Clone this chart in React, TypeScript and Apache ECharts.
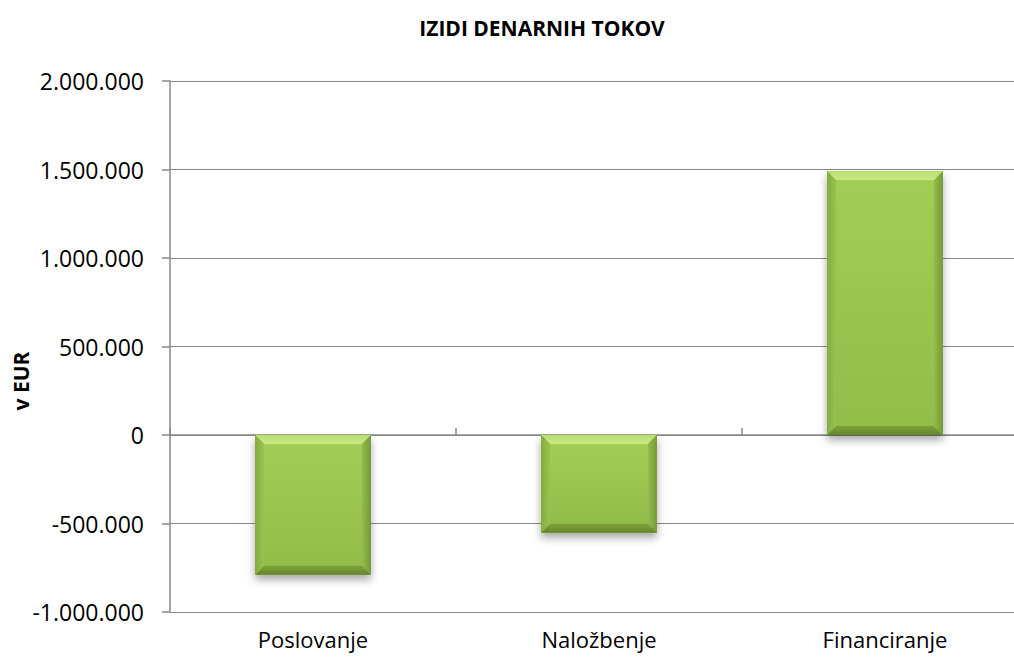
import React, { useEffect, useRef } from "react";
import * as echarts from "echarts";

const categories = ["Poslovanje", "Naložbenje", "Financiranje"];
const values = [-790000, -552000, 1490000];
const yMin = -1000000;
const yMax = 2000000;
const yInterval = 500000;

function fmt(v: number): string {
  const s = Math.abs(v).toString().replace(/\B(?=(\d{3})+(?!\d))/g, ".");
  return (v < 0 ? "-" : "") + s;
}

export default function App() {
  const ref = useRef<HTMLDivElement>(null);
  useEffect(() => {
    if (!ref.current) return;
    const chart = echarts.init(ref.current, undefined, { renderer: "svg" });
    const font = "'Open Sans', 'Noto Sans', sans-serif";
    chart.setOption({
      animation: false,
      backgroundColor: "#ffffff",
      title: {
        text: "IZIDI DENARNIH TOKOV",
        left: 537,
        top: 12,
        textAlign: "center",
        textStyle: { fontFamily: font, fontSize: 21, fontWeight: "bold", color: "#000" },
      },
      graphic: [
        {
          type: "text",
          x: 21,
          y: 381,
          rotation: Math.PI / 2,
          style: {
            text: "v EUR",
            fontFamily: font,
            fontSize: 21,
            fontWeight: "bold",
            fill: "#000",
            align: "center",
            verticalAlign: "middle",
          },
        },
      ],
      grid: { left: 170, top: 81, right: 12, bottom: 46 },
      xAxis: [
        {
          type: "category",
          data: categories,
          position: "bottom",
          axisLine: { show: false, onZero: false },
          axisTick: { show: false },
          axisLabel: { fontFamily: font, fontSize: 22, color: "#000", margin: 16 },
        },
        {
          type: "category",
          data: categories,
          position: "bottom",
          axisLine: { show: true, onZero: true, lineStyle: { color: "#888", width: 1.5 } },
          axisTick: { show: true, inside: true, length: 7, lineStyle: { color: "#888", width: 1.5 } },
          axisLabel: { show: false },
        },
      ],
      yAxis: {
        type: "value",
        min: yMin,
        max: yMax,
        interval: yInterval,
        axisLine: { show: true, lineStyle: { color: "#888", width: 1.5 } },
        axisTick: { show: true, length: 8, lineStyle: { color: "#888", width: 1.5 } },
        splitLine: { show: true, lineStyle: { color: "#888", width: 1.2 } },
        axisLabel: {
          fontFamily: font,
          fontSize: 23,
          color: "#000",
          margin: 26,
          formatter: (v: number) => fmt(v),
        },
      },
      series: [
        {
          type: "custom",
          xAxisIndex: 0,
          encode: { x: 0, y: 1 },
          data: values.map((v, i) => [i, v]),
          renderItem: (params: any, api: any) => {
            const i = api.value(0);
            const v = api.value(1);
            const p0 = api.coord([i, 0]);
            const p1 = api.coord([i, v]);
            const w = api.size([1, 0])[0] * 0.405;
            const x0 = p0[0] - w / 2;
            const x1 = p0[0] + w / 2;
            const top = Math.min(p0[1], p1[1]);
            const bot = Math.max(p0[1], p1[1]);
            const b = 9;
            return {
              type: "group",
              children: [
                {
                  type: "rect",
                  shape: { x: x0, y: top, width: w, height: bot - top },
                  style: {
                    fill: "#8fb847",
                    shadowBlur: 8,
                    shadowOffsetY: 5,
                    shadowColor: "rgba(0,0,0,0.35)",
                  },
                },
                {
                  type: "rect",
                  shape: { x: x0 + b, y: top + b, width: w - 2 * b, height: bot - top - 2 * b },
                  style: {
                    fill: new echarts.graphic.LinearGradient(0, 0, 0, 1, [
                      { offset: 0, color: "#a2cd55" },
                      { offset: 1, color: "#93bd49" },
                    ]),
                  },
                },
                {
                  type: "polygon",
                  shape: { points: [[x0, top], [x1, top], [x1 - b, top + b], [x0 + b, top + b]] },
                  style: {
                    fill: new echarts.graphic.LinearGradient(0, 0, 0, 1, [
                      { offset: 0, color: "#b9df70" },
                      { offset: 1, color: "#c9ea85" },
                    ]),
                  },
                },
                {
                  type: "polygon",
                  shape: { points: [[x0, bot], [x1, bot], [x1 - b, bot - b], [x0 + b, bot - b]] },
                  style: {
                    fill: new echarts.graphic.LinearGradient(0, 0, 0, 1, [
                      { offset: 0, color: "#7fa33b" },
                      { offset: 1, color: "#64852c" },
                    ]),
                  },
                },
                {
                  type: "polygon",
                  shape: { points: [[x0, top], [x0 + b, top + b], [x0 + b, bot - b], [x0, bot]] },
                  style: {
                    fill: new echarts.graphic.LinearGradient(0, 0, 1, 0, [
                      { offset: 0, color: "#84ab40" },
                      { offset: 1, color: "#98c44e" },
                    ]),
                  },
                },
                {
                  type: "polygon",
                  shape: { points: [[x1, top], [x1 - b, top + b], [x1 - b, bot - b], [x1, bot]] },
                  style: {
                    fill: new echarts.graphic.LinearGradient(0, 0, 1, 0, [
                      { offset: 0, color: "#94bd4a" },
                      { offset: 1, color: "#76993a" },
                    ]),
                  },
                },
              ],
            };
          },
        },
      ],
    });
    return () => chart.dispose();
  }, []);
  return (
    <div style={{ position: "absolute", left: 0, top: 0, width: 1014, height: 658, overflow: "hidden" }}>
      <div ref={ref} style={{ width: 1040, height: 658 }} />
    </div>
  );
}
